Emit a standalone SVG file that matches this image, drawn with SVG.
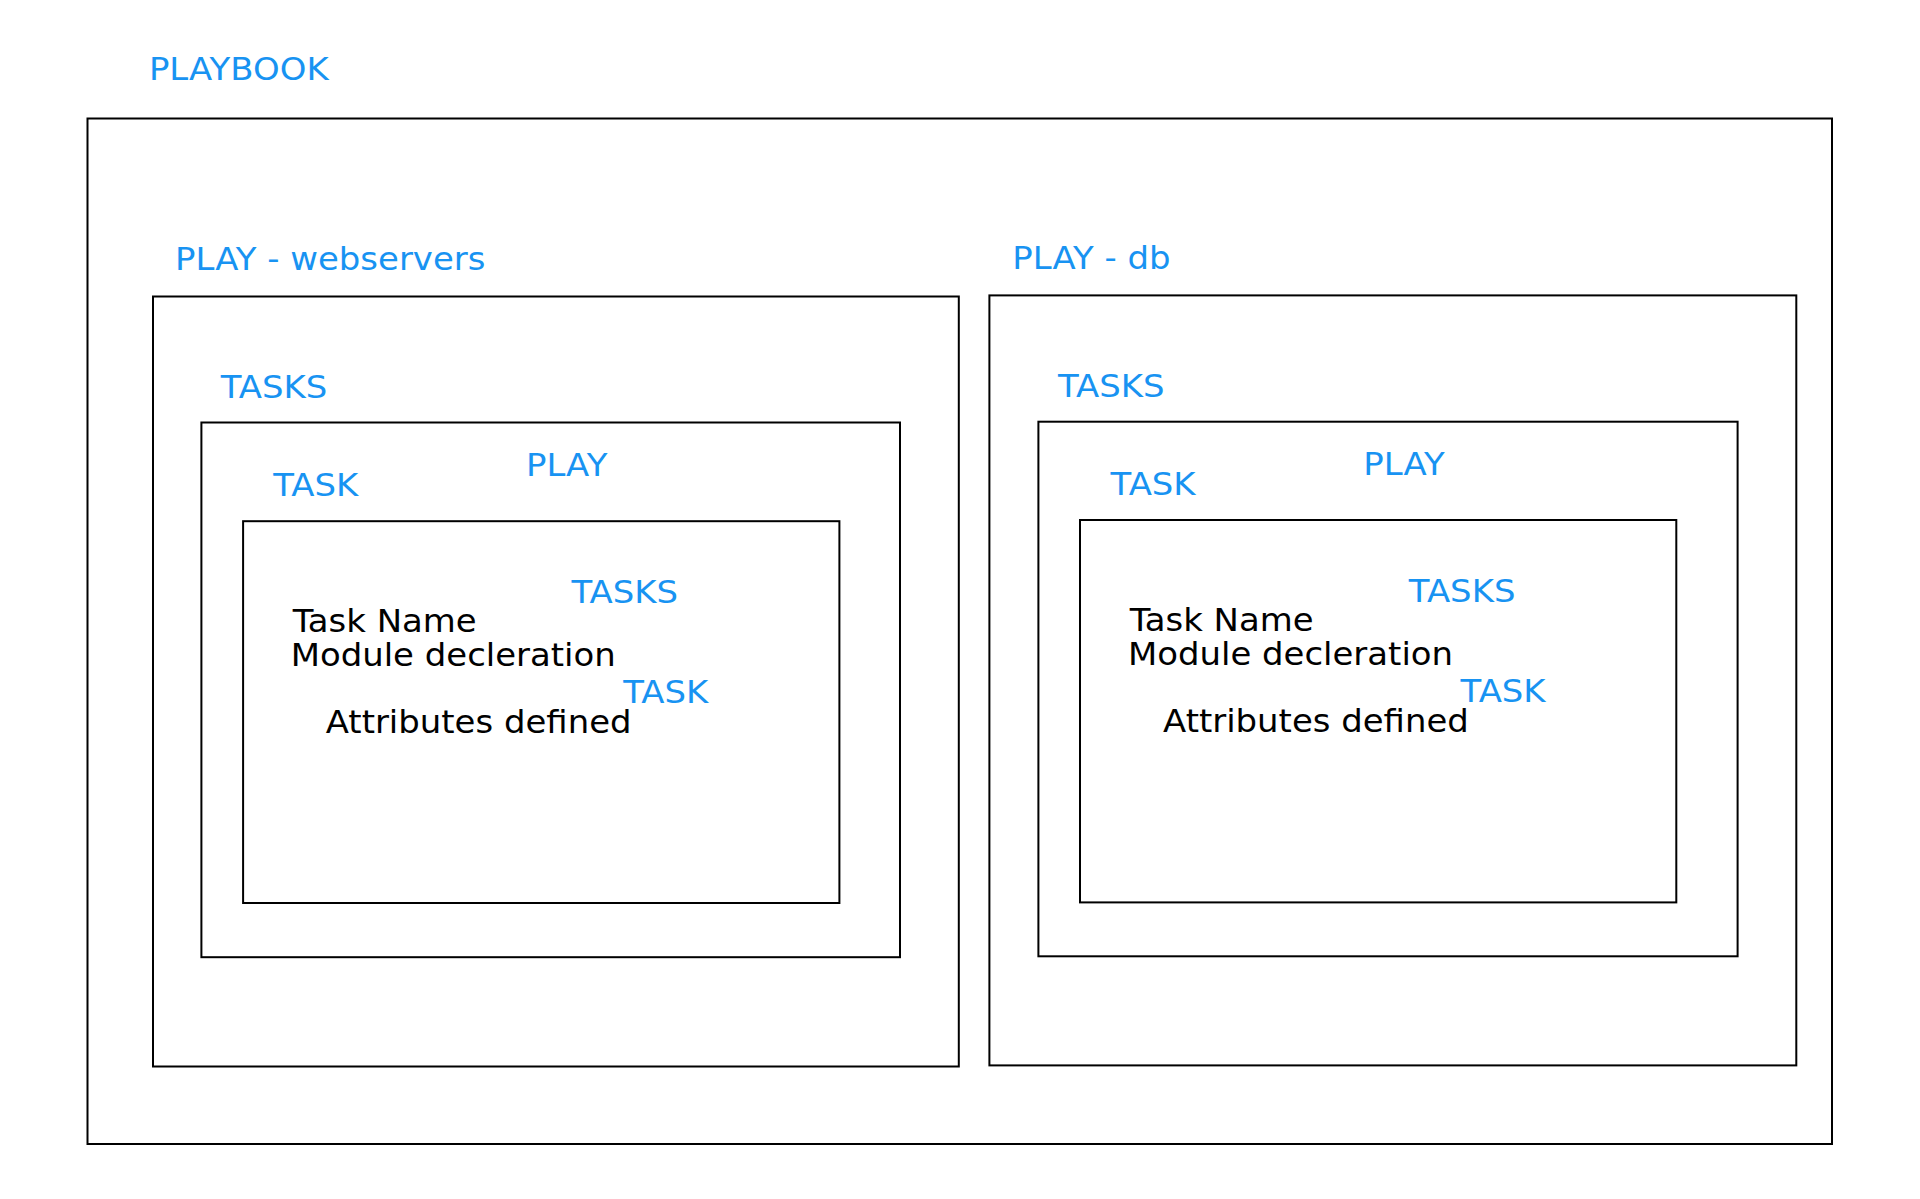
<svg xmlns="http://www.w3.org/2000/svg" width="1920" height="1199" viewBox="0 0 1920 1199">
<style>
.box{fill:none;stroke:#000;stroke-width:2}
.lbl,.txt{font-family:"DejaVu Sans",sans-serif;font-size:32px}
.lbl{fill:#1893f2}
.txt{fill:#000}
</style>
<rect width="1920" height="1199" fill="#fff"/>
<g id="playbook">
<rect class="box" x="87.5" y="118.5" width="1744.5" height="1025.5"/>
<g transform="scale(1.06 1)"><text class="lbl" x="140.5" y="80">PLAYBOOK</text></g>
</g>
<g id="play-webservers">
<rect class="box" x="153" y="296.5" width="805.8" height="770"/>
<g transform="scale(1.06 1)"><text class="lbl" x="165.1" y="270">PLAY - webservers</text></g>
</g>
<g id="tasks-web">
<rect class="box" x="201.4" y="422.5" width="698.6" height="534.7"/>
<g transform="scale(1.06 1)">
<text class="lbl" x="208.2" y="398">TASKS</text>
<text class="lbl" x="496.2" y="476.5">PLAY</text>
</g>
</g>
<g id="task-web">
<rect class="box" x="243.1" y="521.2" width="596.3" height="381.8"/>
<g transform="scale(1.06 1)">
<text class="lbl" x="257.8" y="496.5">TASK</text>
<text class="lbl" x="539.1" y="603.5">TASKS</text>
<text class="txt" x="276.1" y="632.3">Task Name</text>
<text class="txt" x="274.2" y="665.8">Module decleration</text>
<text class="lbl" x="588" y="702.8">TASK</text>
<text class="txt" x="307.3" y="733.3">Attributes defined</text>
</g>
</g>
<g id="play-db">
<rect class="box" x="989.4" y="295.4" width="806.9" height="770"/>
<g transform="scale(1.06 1)"><text class="lbl" x="955" y="269">PLAY - db</text></g>
</g>
<g id="tasks-db">
<rect class="box" x="1038.4" y="421.7" width="699.2" height="534.6"/>
<g transform="scale(1.06 1)">
<text class="lbl" x="998.1" y="397">TASKS</text>
<text class="lbl" x="1286.1" y="475.5">PLAY</text>
</g>
</g>
<g id="task-db">
<rect class="box" x="1080" y="520" width="596.3" height="382.4"/>
<g transform="scale(1.06 1)">
<text class="lbl" x="1047.7" y="495.5">TASK</text>
<text class="lbl" x="1329.1" y="602.5">TASKS</text>
<text class="txt" x="1065.7" y="631.5">Task Name</text>
<text class="txt" x="1064.1" y="664.8">Module decleration</text>
<text class="lbl" x="1377.9" y="701.8">TASK</text>
<text class="txt" x="1097.2" y="732.3">Attributes defined</text>
</g>
</g>
<g id="connectors"/>
</svg>
